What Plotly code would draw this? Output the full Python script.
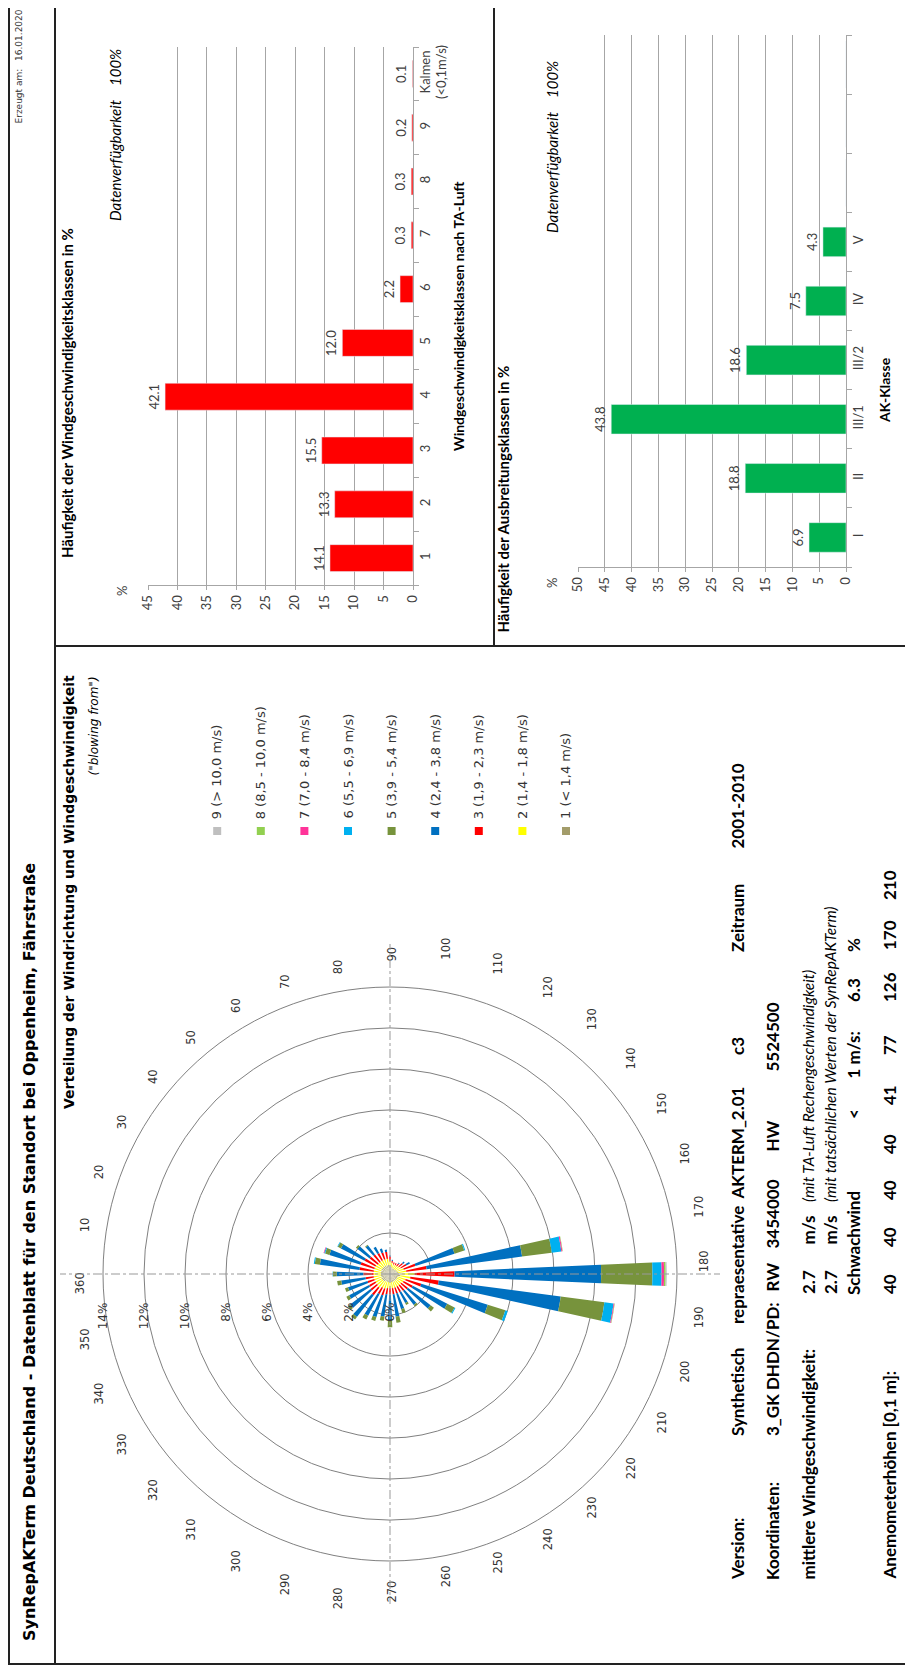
import plotly.graph_objects as go

# reference page size and the 8px default page margin of the HTML body
W_REF, H_REF = 913, 1668
OFF = 8
FW, FH = W_REF - OFF, H_REF - OFF
CAL = "Lato"
VER = "DejaVu Sans"

def px(x):
    return (x - OFF) / FW

def py(y):
    return 1 - (y - OFF) / FH

# ---------------- data ----------------
speed_classes = ["1", "2", "3", "4", "5", "6", "7", "8", "9", "Kalmen<br>(<0,1m/s)"]
speed_freq = [14.1, 13.3, 15.5, 42.1, 12.0, 2.2, 0.3, 0.3, 0.2, 0.1]

ak_classes = ["I", "II", "III/1", "III/2", "IV", "V"]
ak_freq = [6.9, 18.8, 43.8, 18.6, 7.5, 4.3]
ak_empty_slots = [" ", "  ", "   "]

directions = list(range(0, 360, 10))
dir_labels = ["360"] + [str(d) for d in range(10, 360, 10)]
radial_ticks = [0, 2, 4, 6, 8, 10, 12, 14]
radial_labels = [f"{v}%" for v in radial_ticks]

class_names = ["1 (< 1,4 m/s)", "2 (1,4 - 1,8 m/s)", "3 (1,9 - 2,3 m/s)",
               "4 (2,4 - 3,8 m/s)", "5 (3,9 - 5,4 m/s)", "6 (5,5 - 6,9 m/s)",
               "7 (7,0 - 8,4 m/s)", "8 (8,5 - 10,0 m/s)", "9 (> 10,0 m/s)"]
class_colors = ["#A39C6A", "#FFFF00", "#FF0000", "#0070C0", "#77933C",
                "#00B0F0", "#FF3399", "#92D050", "#BFBFBF"]

# frequency (%) per direction 0..350 for each speed class
c1 = [.45, .45, .45, .45, .45, .45, .45, .45, .45, .40, .35, .30, .30, .30, .30, .35, .35, .40,
      .60, .50, .40, .40, .40, .40, .40, .40, .40, .40, .40, .40, .40, .45, .45, .45, .45, .45]
c2 = [.35, .35, .35, .35, .30, .30, .30, .30, .30, .25, .20, .20, .20, .20, .25, .25, .35, .40,
      .60, .50, .40, .35, .30, .30, .30, .30, .30, .30, .30, .35, .35, .40, .35, .35, .35, .35]
c3 = [.50, .70, .70, .60, .50, .45, .40, .35, .35, .20, .10, .10, .10, .15, .25, .30, .60, 1.00,
      1.95, 1.40, .80, .50, .40, .35, .30, .30, .30, .30, .30, .35, .35, .45, .40, .35, .35, .40]
c4 = [1.30, 1.95, 1.60, 1.30, .75, .55, .35, .20, .10, .05, .05, 0, 0, .05, .10, .20, 2.00, 4.70,
      7.15, 6.00, 3.40, 1.90, 1.40, .85, .60, .80, 1.10, 1.25, 1.10, 1.10, 1.20, 1.35, 1.25, 1.10, 1.00, 1.20]
c5 = [.18, .25, .22, .17, .10, .05, 0, 0, 0, 0, 0, 0, 0, 0, 0, 0, .50, 1.46,
      2.50, 2.15, .90, .40, .20, .10, .10, .20, .30, .35, .20, .20, .20, .15, .15, .15, .15, .20]
c6 = [.02, .05, .05, .03, 0, 0, 0, 0, 0, 0, 0, 0, 0, 0, 0, 0, .05, .47,
      .45, .45, .12, .05, 0, 0, 0, 0, 0, 0, 0, 0, 0, 0, 0, 0, 0, 0]
c7 = [0, 0, .03, 0, 0, 0, 0, 0, 0, 0, 0, 0, 0, 0, 0, 0, 0, .05,
      .12, .04, 0, 0, 0, 0, 0, 0, 0, 0, 0, 0, 0, 0, 0, 0, 0, 0]
c8 = [0, 0, 0, 0, 0, 0, 0, 0, 0, 0, 0, 0, 0, 0, 0, 0, 0, .02,
      .08, .02, 0, 0, 0, 0, 0, 0, 0, 0, 0, 0, 0, 0, 0, 0, 0, 0]
c9 = [0, 0, 0, 0, 0, 0, 0, 0, 0, 0, 0, 0, 0, 0, 0, 0, 0, 0,
      .05, 0, 0, 0, 0, 0, 0, 0, 0, 0, 0, 0, 0, 0, 0, 0, 0, 0]
rose = [c1, c2, c3, c4, c5, c6, c7, c8, c9]

anemometer_heights = ["40", "40", "40", "40", "41", "77", "126", "170", "210"]

# ---------------- figure ----------------
fig = go.Figure()

grid_c = "#A6A6A6"
tick_font = dict(family=CAL, size=13, color="#404040")

fig.add_trace(go.Bar(
    x=speed_freq, y=speed_classes, orientation="h", marker_color="#FF0000",
    width=0.5, text=[f"{v:.1f}" for v in speed_freq], textposition="outside",
    textangle=-90, textfont=tick_font, cliponaxis=False,
    xaxis="x", yaxis="y", showlegend=False))

fig.add_trace(go.Bar(
    x=ak_freq, y=ak_classes, orientation="h", marker_color="#00B050",
    width=0.5, text=[f"{v:.1f}" for v in ak_freq], textposition="outside",
    textangle=-90, textfont=tick_font, cliponaxis=False,
    xaxis="x2", yaxis="y2", showlegend=False))
# empty category slots of the AK axis (no bars)
fig.add_trace(go.Bar(
    x=[0] * len(ak_empty_slots), y=ak_empty_slots, orientation="h",
    marker_color="rgba(0,0,0,0)", xaxis="x2", yaxis="y2", showlegend=False,
    hoverinfo="skip"))

for k in range(9):
    fig.add_trace(go.Barpolar(
        r=rose[k], theta=directions, width=5, name=class_names[k],
        marker=dict(color=class_colors[k], line=dict(width=0)),
        subplot="polar", showlegend=False))

fig.add_trace(go.Scatterpolar(r=[0], theta=[0], mode="markers",
                              marker=dict(opacity=0), subplot="polar2",
                              showlegend=False, hoverinfo="skip"))

# ---------------- axes ----------------
def value_axis(dom, vmax):
    return dict(domain=dom, range=[vmax, 0], tickvals=list(range(0, vmax + 1, 5)),
                tickangle=-90, showgrid=True, gridcolor=grid_c, gridwidth=1,
                showline=True, linecolor=grid_c, ticks="outside", ticklen=4,
                tickcolor=grid_c, tickfont=tick_font, zeroline=False,
                fixedrange=True, automargin=False)

def cat_axis(dom, cats, anchor):
    return dict(domain=dom, type="category", categoryorder="array", categoryarray=cats,
                side="right", anchor=anchor, tickangle=-90, ticks="outside",
                tickson="boundaries", ticklen=5, tickcolor=grid_c, showline=True,
                linecolor=grid_c, showgrid=False, tickfont=tick_font,
                fixedrange=True, automargin=False)

fig.update_layout(
    width=FW, height=FH, margin=dict(l=0, r=0, t=0, b=0, autoexpand=False),
    paper_bgcolor="white", plot_bgcolor="white",
    xaxis=dict(value_axis([px(148), px(413)], 45), anchor="y"),
    yaxis=cat_axis([py(585), py(47)], speed_classes, "x"),
    xaxis2=dict(value_axis([px(578), px(846)], 50), anchor="y2"),
    yaxis2=cat_axis([py(567), py(35)], ak_classes + ak_empty_slots, "x2"),
    polar=dict(
        domain=dict(x=[px(103), px(677)], y=[py(1561), py(987)]),
        bgcolor="rgba(0,0,0,0)",
        barmode="stack",
        radialaxis=dict(range=[0, 14], tickvals=radial_ticks, ticktext=radial_labels,
                        angle=180, side="counterclockwise", tickangle=90,
                        showline=False, ticks="outside", ticklen=24,
                        tickcolor="rgba(0,0,0,0)", gridcolor="#808080", gridwidth=1,
                        tickfont=dict(family=VER, size=12, color="#333333")),
        angularaxis=dict(rotation=180, direction="clockwise", tickvals=directions,
                         ticktext=dir_labels, showgrid=False, showline=True,
                         linecolor="#808080", ticks="outside", ticklen=22,
                         tickcolor="rgba(0,0,0,0)", tickangle=-90,
                         tickfont=dict(family=VER, size=11.5, color="#333333")),
    ),
    polar2=dict(
        domain=dict(x=[px(60), px(720)], y=[py(1604), py(944)]),
        bgcolor="rgba(0,0,0,0)",
        radialaxis=dict(visible=False, range=[0, 1]),
        angularaxis=dict(rotation=180, direction="clockwise", tickvals=[0, 90, 180, 270],
                         showticklabels=False, showgrid=True, griddash="dashdot",
                         gridcolor="#999999", gridwidth=1, showline=False, ticks=""),
    ),
)

# ---------------- page frame ----------------
line_c = "#222222"
shapes = [
    dict(type="rect", x0=px(9), x1=px(909), y0=py(5), y1=py(1664)),
    dict(type="line", x0=px(55), x1=px(55), y0=py(5), y1=py(1664)),
    dict(type="line", x0=px(55), x1=px(909), y0=py(646), y1=py(646)),
    dict(type="line", x0=px(494), x1=px(494), y0=py(5), y1=py(646)),
]
for s in shapes:
    s.update(xref="paper", yref="paper", line=dict(color=line_c, width=2))

# legend squares
leg_x0, leg_dx = 566, -43.6
for k in range(9):
    cx = leg_x0 + k * leg_dx
    shapes.append(dict(type="rect", xref="paper", yref="paper",
                       x0=px(cx - 4), x1=px(cx + 4), y0=py(835), y1=py(827),
                       fillcolor=class_colors[k], line=dict(width=0)))
fig.update_layout(shapes=shapes)

# ---------------- texts ----------------
ann = []

def vt(x, y, text, size, family=CAL, bold=False, italic=False, anchor="bottom", color="black"):
    t = text
    if bold:
        t = f"<b>{t}</b>"
    if italic:
        t = f"<i>{t}</i>"
    ann.append(dict(x=px(x), y=py(y), xref="paper", yref="paper", text=t, textangle=-90,
                    showarrow=False, xanchor="center", yanchor=anchor,
                    font=dict(size=size, family=family, color=color)))

# header strip
vt(29, 1643, "SynRepAKTerm Deutschland - Datenblatt für den Standort bei Oppenheim, Fährstraße",
   16, VER, bold=True)
vt(19, 7, "16.01.2020", 9, VER, anchor="top", color="#333333")
vt(19, 126, "Erzeugt am:", 9, VER, color="#333333")

# wind speed class chart texts
vt(67, 560, "Häufigkeit der Windgeschwindigkeitsklassen in %", 15, CAL, bold=True)
vt(115, 47, "Datenverfügbarkeit&nbsp;&nbsp;&nbsp;&nbsp;100%", 15, CAL, italic=True, anchor="top")
vt(122, 598, "%", 13, CAL, color="#404040")
vt(459, 316, "<b>Windgeschwindigkeitsklassen nach TA-Luft</b>", 14, CAL, anchor="middle")

# dispersion class chart texts
vt(503, 635, "Häufigkeit der Ausbreitungsklassen in %", 15, CAL, bold=True)
vt(552, 59, "Datenverfügbarkeit&nbsp;&nbsp;&nbsp;&nbsp;100%", 15, CAL, italic=True, anchor="top")
vt(552, 590, "%", 13, CAL, color="#404040")
vt(884, 390, "<b>AK-Klasse</b>", 14, CAL, anchor="middle")

# wind rose texts
vt(69, 673, "Verteilung der Windrichtung und Windgeschwindigkeit", 14, VER, bold=True, anchor="top")
vt(93, 675, "(\"blowing from\")", 12, VER, italic=True, anchor="top")
for k in range(9):
    vt(leg_x0 + k * leg_dx, 821, class_names[k], 13, VER, color="#333333")

# info block
B = 17
I = 15.5
vt(737, 1582, "Version:", B, CAL, bold=True)
vt(737, 1438, "Synthetisch", B, CAL, bold=True)
vt(737, 1326, "repraesentative", B, CAL, bold=True)
vt(737, 1202, "AKTERM_2.01", B, CAL, bold=True)
vt(737, 1057, "c3", B, CAL, bold=True)
vt(737, 954, "Zeitraum", B, CAL, bold=True)
vt(737, 851, "2001-2010", B, CAL, bold=True)

vt(772, 1582, "Koordinaten:", B, CAL, bold=True)
vt(772, 1438, "3_GK DHDN/PD:", B, CAL, bold=True)
vt(772, 1294, "RW", B, CAL, bold=True)
vt(772, 1251, "3454000", B, CAL, bold=True)
vt(772, 1154, "HW", B, CAL, bold=True)
vt(772, 1074, "5524500", B, CAL, bold=True)

vt(808, 1582, "mittlere Windgeschwindigkeit:", B, CAL, bold=True)
vt(808, 1296, "2.7", B, CAL, bold=True)
vt(808, 1247, "m/s", B, CAL, bold=True)
vt(808, 1204, "(mit TA-Luft Rechengeschwindigkeit)", I, CAL, italic=True)
vt(830, 1296, "2.7", B, CAL, bold=True)
vt(830, 1247, "m/s", B, CAL, bold=True)
vt(830, 1204, "(mit tatsächlichen Werten der SynRepAKTerm)", I, CAL, italic=True)
vt(853, 1297, "Schwachwind", B, CAL, bold=True)
vt(853, 1121, "&lt;", B, CAL, bold=True)
vt(853, 1081, "1 m/s:", B, CAL, bold=True)
vt(853, 1004, "6.3", B, CAL, bold=True)
vt(853, 954, "%", B, CAL, bold=True)

vt(889, 1582, "Anemometerhöhen [0,1 m]:", B, CAL, bold=True)
anem_y = [1296, 1249, 1202, 1156, 1107, 1057, 1004, 952, 902]
for yy, h in zip(anem_y, anemometer_heights):
    vt(889, yy, h, B, CAL, bold=True)

fig.update_layout(annotations=ann)
fig.write_html("out.html")
